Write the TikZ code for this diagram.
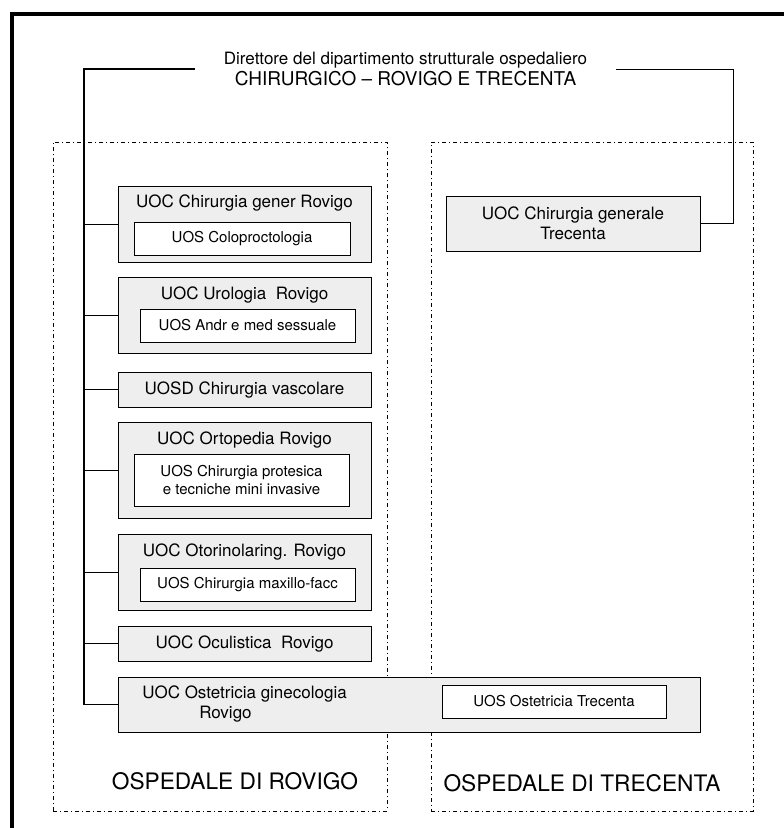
\documentclass[tikz,border=0pt]{standalone}
\usepackage{fontspec}
\setmainfont{TeX Gyre Heros}
\definecolor{boxgray}{RGB}{238,238,238}
\tikzset{
  uoc/.style={draw, fill=boxgray, line width=0.9pt, inner sep=0pt, outer sep=0pt,
    minimum width=253pt, align=center, font=\fontsize{17}{20}\selectfont},
  uos/.style={draw, fill=white, line width=0.9pt, inner sep=0pt, outer sep=0pt,
    minimum width=215pt, minimum height=33pt, align=center, font=\fontsize{15}{18}\selectfont},
  lbl/.style={inner sep=0pt, align=center, font=\fontsize{17}{20}\selectfont},
  hosp/.style={draw, line width=0.9pt, dash pattern=on 4pt off 3pt on 1pt off 3pt,
    inner sep=0pt, minimum height=669pt},
  hlbl/.style={inner sep=0pt, font=\fontsize{22.7}{26}\selectfont},
}
\begin{document}
\begin{tikzpicture}[x=1pt,y=-1pt]
	\useasboundingbox (0,0) rectangle (784,828);
	\draw[line width=4pt] (12,850) -- (12,14) -- (800,14);

	\node[hosp, minimum width=334pt] (H1) at (220,476.5) {};
	\node[hosp, minimum width=322pt] (H2) at (592,476.5) {};
	\node[hlbl] (L1) at (235,781) {OSPEDALE DI ROVIGO};
	\node[hlbl] (L2) at (582,783) {OSPEDALE DI TRECENTA};

	\node[align=center, inner xsep=29pt, inner ysep=0pt, font=\fontsize{17}{21}\selectfont] (D) at (405.5,69)
		{Direttore del dipartimento strutturale ospedaliero\\
		 \fontsize{19}{21}\selectfont CHIRURGICO -- ROVIGO E TRECENTA};

	\node[uoc, minimum height=76pt] (CR) at (244.5,224) {};
	\node[lbl] (CRt) at (244.5,203) {UOC Chirurgia gener Rovigo};
	\node[uos, minimum width=216pt] (CRs) at (242,238.5) {UOS Coloproctologia};

	\node[uoc, minimum height=76pt] (UR) at (244.5,315) {};
	\node[lbl] (URt) at (244.5,295) {UOC Urologia~ Rovigo};
	\node[uos] (URs) at (247.5,325.5) {UOS Andr e med sessuale};

	\node[uoc, minimum height=35pt] (VA) at (244.5,389.5) {UOSD Chirurgia vascolare};

	\node[uoc, minimum height=96pt] (OR) at (244.5,470) {};
	\node[lbl] (ORt) at (244.5,440) {UOC Ortopedia Rovigo};
	\node[uos, minimum height=52pt] (ORs) at (241.5,480) {UOS Chirurgia protesica\\e tecniche mini invasive};

	\node[uoc, minimum height=76pt] (OT) at (244.5,572) {};
	\node[lbl] (OTt) at (244.5,552) {UOC Otorinolaring. Rovigo};
	\node[uos] (OTs) at (247.5,585) {UOS Chirurgia maxillo-facc};

	\node[uoc, minimum height=35pt] (OC) at (244.5,643.5) {UOC Oculistica~ Rovigo};

	\node[uoc, minimum width=582pt, minimum height=55pt] (OS) at (409,704.5) {};
	\node[lbl, align=left] (OSt) at (244.5,704) {UOC Ostetricia ginecologia\\\hspace*{57pt}Rovigo};
	\node[uos, minimum width=224pt] (OSs) at (554,701.5) {UOS Ostetricia Trecenta};

	\node[uoc, minimum width=254pt, minimum height=55pt] (CT) at (573,223.5) {UOC Chirurgia generale\\Trecenta};

	\coordinate (S) at (84,704.5);
	\coordinate (B) at (733,223.5);
	\draw[line width=1.2pt] (D.west) -| (S) -- (OS.west);
	\draw[line width=0.9pt] (D.east) -| (B) -- (CT.east);

	\path [-, line width=1pt] (CR.west) edge (CR.west -| S);
	\path [-, line width=1pt] (UR.west) edge (UR.west -| S);
	\path [-, line width=1pt] (VA.west) edge (VA.west -| S);
	\path [-, line width=1pt] (OR.west) edge (OR.west -| S);
	\path [-, line width=1pt] (OT.west) edge (OT.west -| S);
	\path [-, line width=1pt] (OC.west) edge (OC.west -| S);
\end{tikzpicture}
\end{document}
